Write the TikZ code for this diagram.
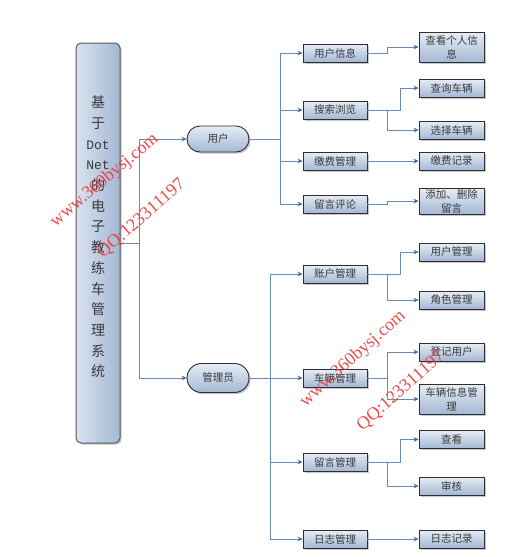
\documentclass[tikz,border=0pt]{standalone}
\usepackage{fontspec}
\setmainfont{Noto Sans CJK SC}
\newfontfamily\monof{Liberation Mono}
\newfontfamily\wmfont{Liberation Serif}
\usetikzlibrary{shapes.misc,shadows,arrows.meta,calc}
\definecolor{linec}{HTML}{6A8AB8}
\definecolor{arrc}{HTML}{3F6398}
\definecolor{boxtop}{HTML}{E6EDF6}
\definecolor{boxbot}{HTML}{A4B8D4}
\definecolor{bord}{HTML}{2E2E33}
\definecolor{txt}{HTML}{3A3A3A}
\definecolor{wm}{HTML}{E83A3A}
\begin{document}
\begin{tikzpicture}[x=1pt,y=-1pt,
  shad/.style={drop shadow={shadow xshift=1.6pt, shadow yshift=-1.6pt, fill=black!40, opacity=0.55}},
  box/.style={shad, draw=bord, line width=0.9pt, top color=boxtop, bottom color=boxbot,
    minimum width=64pt, minimum height=18pt, inner sep=1pt,
    font=\fontsize{10.5}{14}\selectfont, text=txt, align=center},
  boxb/.style={box, minimum width=65pt},
  stad/.style={shad, rounded rectangle, draw=bord, line width=0.9pt, top color=boxtop, bottom color=boxbot,
    minimum width=64pt, minimum height=26pt, inner sep=1pt,
    font=\fontsize{10.5}{14}\selectfont, text=txt},
  mainbox/.style={shad, draw=black!65, line width=1pt, rounded corners=5pt,
    left color=boxtop!80!boxbot, right color=boxbot, minimum width=44pt, minimum height=400pt},
  conn/.style={draw=linec, line width=0.8pt},
  arr/.style={conn, -{Stealth[length=5pt,width=4.5pt,fill=arrc,color=arrc]}},
  wmark/.style={text=wm, font=\wmfont\fontsize{18}{18}\selectfont, opacity=0.9, inner sep=0pt}
]
\useasboundingbox (0,0) rectangle (514,557);

% main box
\node[mainbox] (main) at (98,243) {};
\node[font=\fontsize{14}{20.7}\selectfont, align=center, text=txt] (maintext) at (98,237)
  {基\\于\\{\monof\fontsize{13}{20.7}\selectfont Dot}\\{\monof\fontsize{13}{20.7}\selectfont Net}\\的\\电\\子\\教\\练\\车\\管\\理\\系\\统};

% level 1
\node[stad] (user) at (218,139) {用户};
\node[stad, minimum height=29pt] (admin) at (218,378) {管理员};

% level 2 (user)
\node[box] (a1) at (335,53) {用户信息};
\node[box] (a2) at (335,110) {搜索浏览};
\node[box] (a3) at (335,161) {缴费管理};
\node[box] (a4) at (335,204) {留言评论};

% level 3 (user)
\node[boxb, minimum height=30pt] (b1) at (451.5,47) {查看个人信\\息};
\node[boxb] (b2) at (451.5,88) {查询车辆};
\node[boxb] (b3) at (451.5,130) {选择车辆};
\node[boxb] (b4) at (451.5,161) {缴费记录};
\node[boxb, minimum height=26pt] (b5) at (451.5,201) {添加、删除\\留言};

% level 2 (admin)
\node[box] (c1) at (335,274) {账户管理};
\node[box] (c2) at (335,378) {车辆管理};
\node[box] (c3) at (335,462) {留言管理};
\node[box] (c4) at (335,539) {日志管理};

% level 3 (admin)
\node[boxb] (d1) at (451.5,252) {用户管理};
\node[boxb] (d2) at (451.5,300) {角色管理};
\node[boxb] (d3) at (451.5,352) {登记用户};
\node[boxb, minimum height=30pt] (d4) at (451.5,399) {车辆信息管\\理};
\node[boxb] (d5) at (451.5,439.5) {查看};
\node[boxb] (d6) at (451.5,486) {审核};
\node[boxb] (d7) at (451.5,539) {日志记录};

% connectors
\coordinate (t0) at (139,243);
\draw[conn] (main.east) -- (t0);
\draw[arr] (t0) |- (user.west);
\draw[arr] (t0) |- (admin.west);

\coordinate (t1) at (280,139);
\draw[conn] (user.east) -- (t1);
\foreach \n in {a1,a2,a3,a4} \draw[arr] (t1) |- (\n.west);

\draw[arr] (a1.east) -- ++(20,0) |- (b1.west);
\draw[arr] (a2.east) -- ++(33,0) |- (b2.west);
\draw[arr] (a2.east) -- ++(20,0) |- (b3.west);
\draw[arr] (a3.east) -- (b4.west);
\draw[arr] (a4.east) -- ++(20,0) |- (b5.west);

\coordinate (t2) at (270,378);
\draw[conn] (admin.east) -- (t2);
\foreach \n in {c1,c2,c3,c4} \draw[arr] (t2) |- (\n.west);

\draw[arr] (c1.east) -- ++(33,0) |- (d1.west);
\draw[arr] (c1.east) -- ++(20,0) |- (d2.west);
\draw[arr] (c2.east) -- ++(20,0) |- (d3.west);
\draw[arr] (c2.east) -- ++(20,0) |- (d4.west);
\draw[arr] (c3.east) -- ++(33,0) |- (d5.west);
\draw[arr] (c3.east) -- ++(20,0) |- (d6.west);
\draw[arr] (c4.east) -- (d7.west);

% watermarks
\node[wmark, rotate=40] (w1) at (104.5,180.5) {www.360bysj.com};
\node[wmark, rotate=41.5] (q1) at (141.5,218.5) {QQ:123311197};
\node[wmark, rotate=41.7] (w2) at (353,359) {www.360bysj.com};
\node[wmark, rotate=41.5] (q2) at (401,391) {QQ:123311197};
\end{tikzpicture}
\end{document}
